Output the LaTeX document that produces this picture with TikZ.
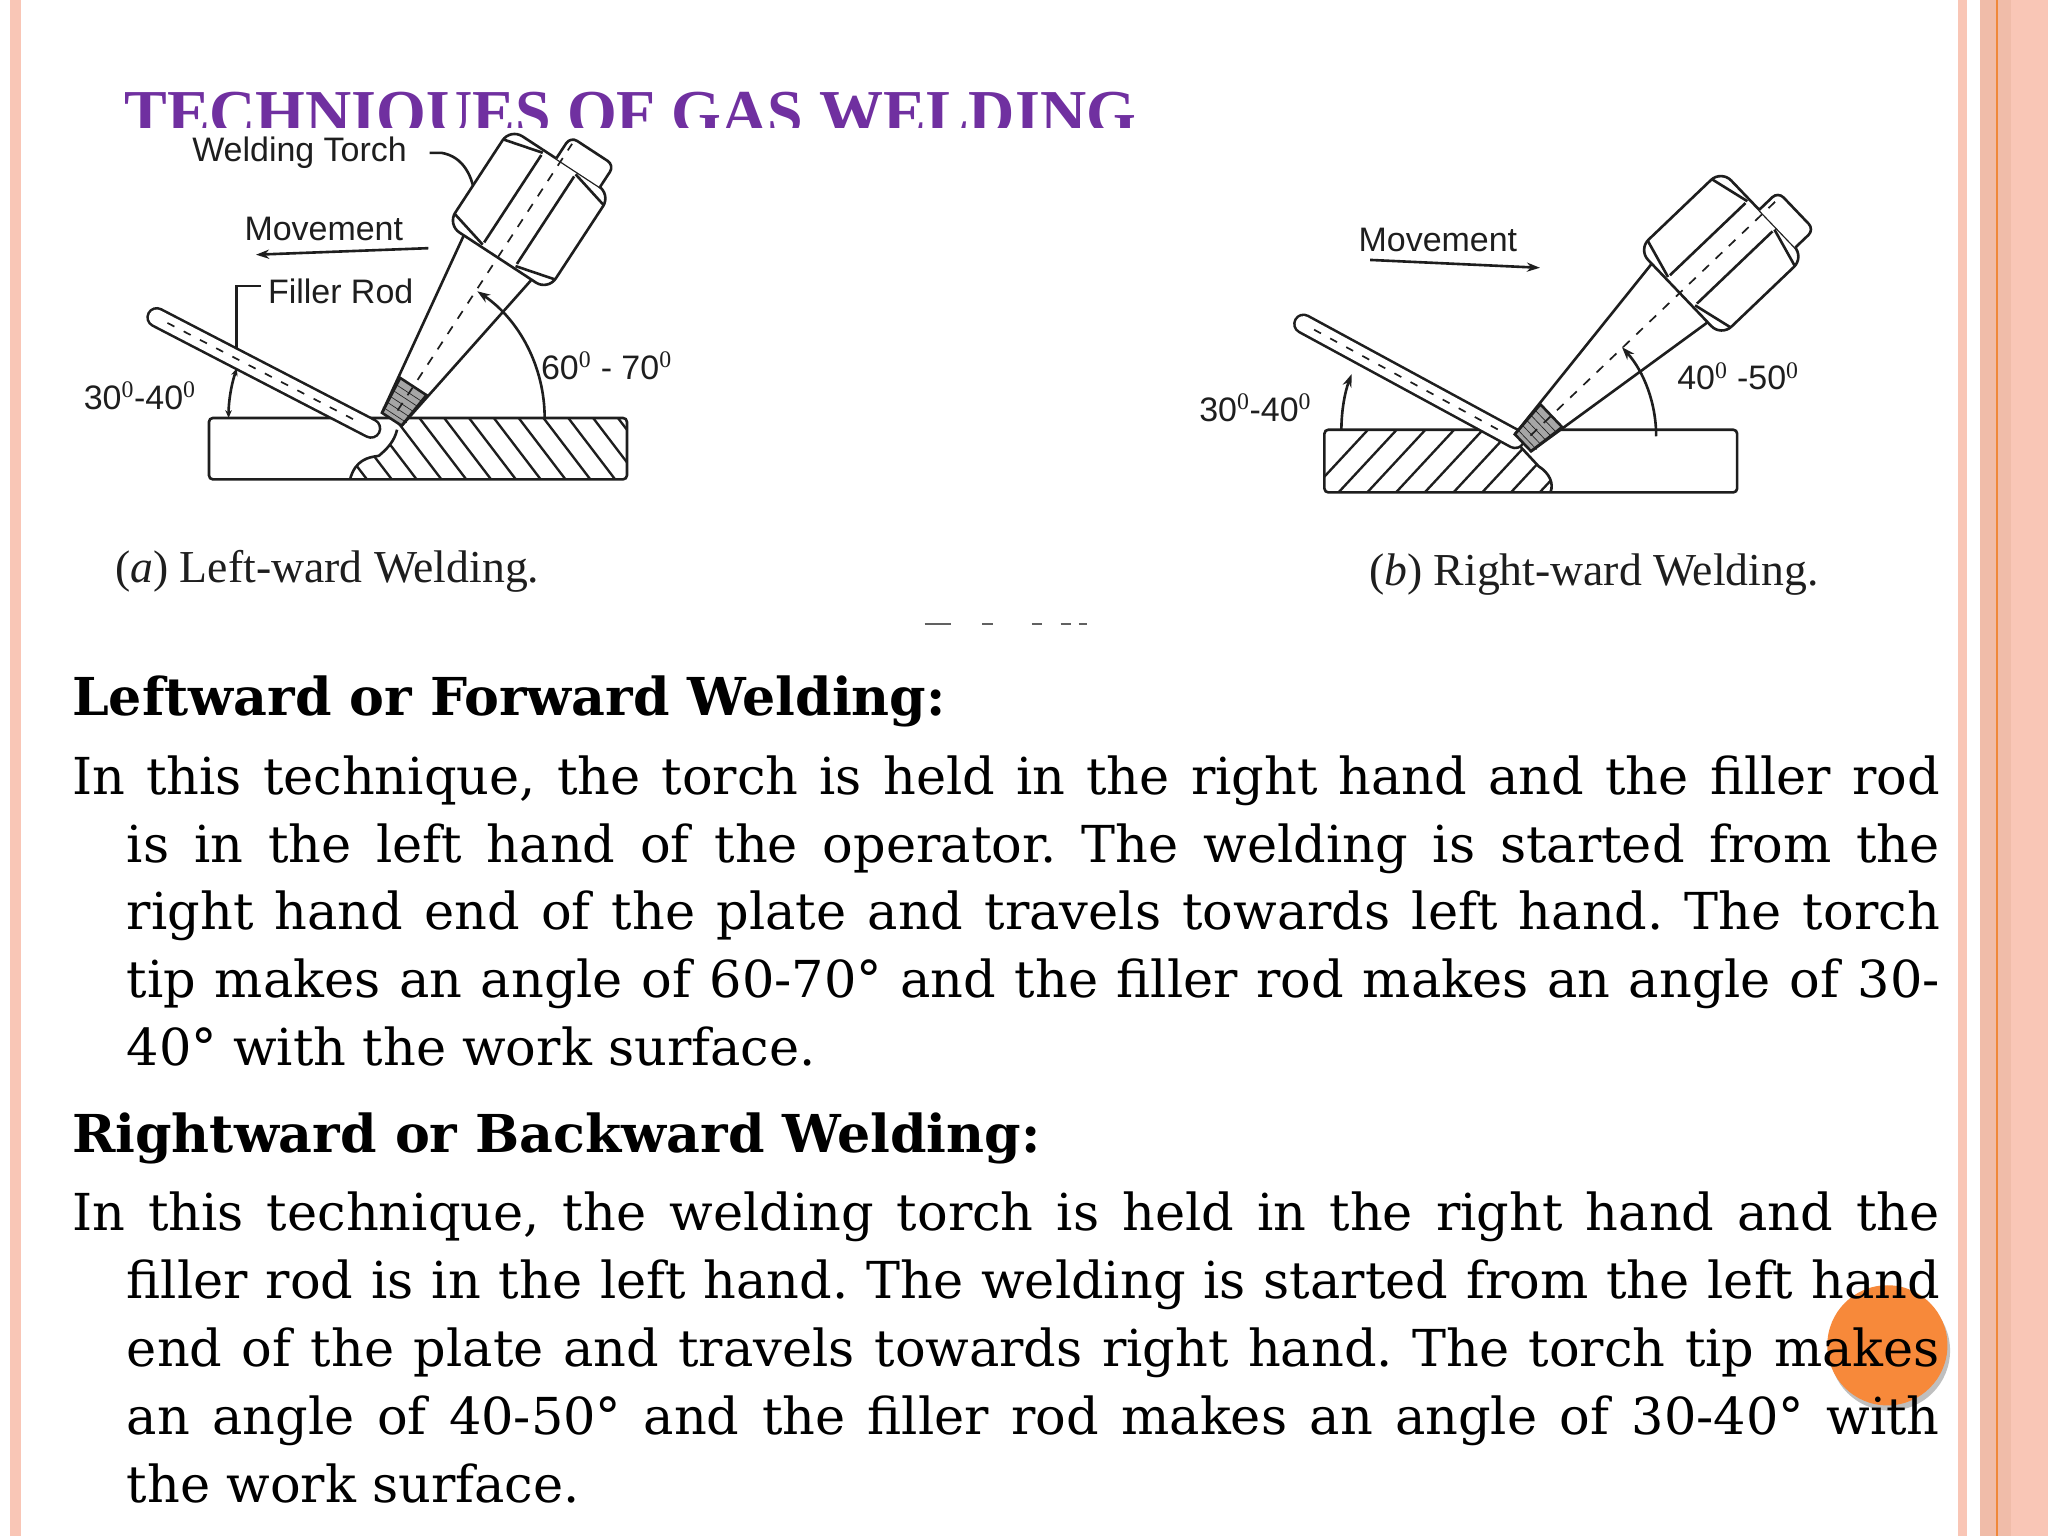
\documentclass[tikz,border=0pt]{standalone}
\usepackage{fontspec}
\setmainfont{Liberation Serif}
\newfontfamily\bodyf{DejaVu Serif}
\newfontfamily\labf{Liberation Sans}
\usetikzlibrary{arrows.meta,calc}
\definecolor{ttl}{HTML}{7030A0}
\definecolor{pinkA}{HTML}{F9C6B6}
\definecolor{pinkB}{HTML}{F0BCA9}
\definecolor{orng}{HTML}{F0883A}
\definecolor{dot}{HTML}{F7893A}
\definecolor{ink}{HTML}{1E1E1E}
\frenchspacing
\tikzset{
  dline/.style={ink,line width=2pt},
  lab/.style={ink,font=\labf\fontsize{26}{28}\selectfont,inner sep=0pt},
  captext/.style={ink,font=\fontsize{35}{40}\selectfont,inner sep=0pt,anchor=base west},
  body/.style={font=\bodyf\fontsize{39}{44}\selectfont,inner sep=0pt,anchor=base west},
  head/.style={font=\bodyf\bfseries\fontsize{40}{44}\selectfont,inner sep=0pt,anchor=base west},
  arr/.style={dline,-{Stealth[length=10pt,width=7pt]}},
}
\newcommand{\torchdraw}[3]{%
  \begin{scope}[shift={(#1)},rotate=#2]
    \fill[white] (0,-9)--(#3,-31)--(#3+88,-46)--(#3+88,46)--(#3,31)--(0,9)--cycle;
    \filldraw[dline,fill=gray!70] (0,-9)--(0,9)--(30,12)--(30,-12)--cycle;
    \foreach \t in {4,9,...,28}{\draw[ink,line width=0.5pt] (\t,-11)--(\t,11);}
    \draw[dline] (0,9)--(#3,31) (0,-9)--(#3,-31);
    \filldraw[dline,fill=white,rounded corners=11pt] (#3,-46) rectangle (#3+88,46);
    \draw[dline] (#3+4,-15)--(#3+84,-15) (#3+4,15)--(#3+84,15);
    \draw[dline] (#3+10,-46)--(#3+2,-15) (#3+10,46)--(#3+2,15);
    \draw[dline] (#3+78,-46)--(#3+86,-15) (#3+78,46)--(#3+86,15);
    \filldraw[dline,fill=white,rounded corners=6pt] (#3+88,-4)--(#3+108,-4)--(#3+108,36)--(#3+88,36);
    \draw[ink,line width=1.3pt,dash pattern=on 7pt off 7pt] (8,0)--(#3+104,0);
  \end{scope}}
\begin{document}
\begin{tikzpicture}[x=1pt,y=-1pt]
\useasboundingbox (0,0) rectangle (1568,1176);
\fill[white] (0,0) rectangle (1568,1176);
% borders
\fill[pinkA] (8,0) rectangle (16,1176);
\fill[pinkA] (1499,0) rectangle (1506,1176);
\fill[pinkB] (1516,0) rectangle (1568,1176);
\fill[pinkA] (1540,0) rectangle (1568,1176);
\draw[orng,line width=1.5pt] (1529,0)--(1529,1176);
% title
\node[ttl,font=\bfseries\fontsize{49}{54}\selectfont,inner sep=0pt,anchor=base west] (title) at (95,103) {TECHNIQUES OF GAS WELDING};
\fill[white] (60,98) rectangle (1490,490);
% ---------- diagram (a)
\node[lab,anchor=west] (wt) at (147,117) {Welding Torch};
\draw[dline] (329,117)--(338,117) .. controls (355,120) and (362,135) .. (364,152);
\node[lab,anchor=west] (mva) at (187,175) {Movement};
\coordinate (mvas) at (328,190); \coordinate (mvae) at (196,195);
\draw[arr] (mvas)--(mvae);
\node[lab,anchor=west] (fr) at (205,223) {Filler Rod};
\draw[dline] (200,219)--(181,219)--(181,268);
\node[lab,anchor=west] (aa1) at (64,303) {30$^{\mathrm{0}}$-40$^{\mathrm{0}}$};
\node[lab,anchor=west] (aa2) at (414,280) {60$^{\mathrm{0}}$ - 70$^{\mathrm{0}}$};
\coordinate (pa) at (160,320);
\draw[dline,rounded corners=3pt] (pa) rectangle (480,367);
\begin{scope}
  \clip (304,320)--(480,320)--(480,367)--(268,367) .. controls (272,352) and (282,350) .. (290,349) .. controls (296,344) and (302,338) .. (304,329)--cycle;
  \foreach \x in {220,239,...,500}{\draw[ink,line width=1.8pt] (\x,312)--++(45,59);}
\end{scope}
\draw[dline] (268,367) .. controls (272,352) and (282,350) .. (290,349) .. controls (296,344) and (302,338) .. (304,329);
\coordinate (ra1) at (120,243); \coordinate (ra2) at (284,328);
\draw[ink,line width=16pt,line cap=round] (ra1)--(ra2);
\draw[white,line width=12pt,line cap=round] (ra1)--(ra2);
\draw[ink,line width=1.3pt,dash pattern=on 6pt off 8pt] ($(ra1)!0.05!(ra2)$)--($(ra1)!0.95!(ra2)$);
\draw[dline,{Stealth[length=6pt,width=5pt]}-{Stealth[length=6pt,width=5pt]}] (175,320) arc[start angle=180,end angle=199,radius=117];
\coordinate (tipa) at (300,321);
\torchdraw{tipa}{56.8}{148}
\draw[arr] (417,320) arc[start angle=0,end angle=-56,radius=117];
% ---------- diagram (b)
\node[lab,anchor=west] (mvb) at (1040,184) {Movement};
\coordinate (mvbs) at (1049,199); \coordinate (mvbe) at (1179,205);
\draw[arr] (mvbs)--(mvbe);
\node[lab,anchor=west] (bb1) at (918,312) {30$^{\mathrm{0}}$-40$^{\mathrm{0}}$};
\node[lab,anchor=west] (bb2) at (1284,288) {40$^{\mathrm{0}}$ -50$^{\mathrm{0}}$};
\coordinate (pb) at (1014,329);
\draw[dline,rounded corners=3pt] (pb) rectangle (1330,377);
\begin{scope}
  \clip (1014,329)--(1152,329)--(1178,357) .. controls (1186,362) and (1190,370) .. (1187,377)--(1014,377)--cycle;
  \foreach \x in {1000,1022,...,1260}{\draw[ink,line width=1.8pt] (\x,380)--++(52,-56);}
\end{scope}
\draw[dline] (1152,329)--(1178,357) .. controls (1186,362) and (1190,370) .. (1187,377);
\coordinate (rb1) at (998,248); \coordinate (rb2) at (1160,336);
\draw[ink,line width=16pt,line cap=round] (rb1)--(rb2);
\draw[white,line width=12pt,line cap=round] (rb1)--(rb2);
\draw[ink,line width=1.3pt,dash pattern=on 6pt off 8pt] ($(rb1)!0.05!(rb2)$)--($(rb1)!0.95!(rb2)$);
\draw[arr] (1027,329) arc[start angle=180,end angle=201,radius=119];
\coordinate (tipb) at (1166,339);
\torchdraw{tipb}{43.7}{166}
\draw[arr] (1268,334) arc[start angle=0,end angle=-42,radius=102];
% captions
\node[captext] (capa) at (88,446) {(\textit{a}) Left-ward Welding.};
\node[captext] (capb) at (1048,448) {(\textit{b}) Right-ward Welding.};
\draw[ink!70,line width=1.5pt] (708,478)--(728,478) (752,478)--(760,478) (790,478)--(798,478) (812,478)--(820,478) (826,478)--(832,478);
% orange dot
\fill[black!25] (1447,1034) circle (46);
\fill[dot] (1445,1030) circle (46);
% body text
\node[head] (h1) at (55,548) {Leftward or Forward Welding:};
\node[body] (a1) at (55,608) {\makebox[1430pt][s]{In this technique, the torch is held in the right hand and the filler rod}};
\node[body] (a2) at (97,660) {\makebox[1388pt][s]{is in the left hand of the operator. The welding is started from the}};
\node[body] (a3) at (97,712) {\makebox[1388pt][s]{right hand end of the plate and travels towards left hand. The torch}};
\node[body] (a4) at (97,764) {\makebox[1388pt][s]{tip makes an angle of 60-70° and the filler rod makes an angle of 30-}};
\node[body] (a5) at (97,816) {40° with the work surface.};
\node[head] (h2) at (55,882) {Rightward or Backward Welding:};
\node[body] (b1) at (55,942) {\makebox[1430pt][s]{In this technique, the welding torch is held in the right hand and the}};
\node[body] (b2) at (97,994) {\makebox[1388pt][s]{filler rod is in the left hand. The welding is started from the left hand}};
\node[body] (b3) at (97,1046) {\makebox[1388pt][s]{end of the plate and travels towards right hand. The torch tip makes}};
\node[body] (b4) at (97,1098) {\makebox[1388pt][s]{an angle of 40-50° and the filler rod makes an angle of 30-40° with}};
\node[body] (b5) at (97,1150) {the work surface.};
\end{tikzpicture}
\end{document}
